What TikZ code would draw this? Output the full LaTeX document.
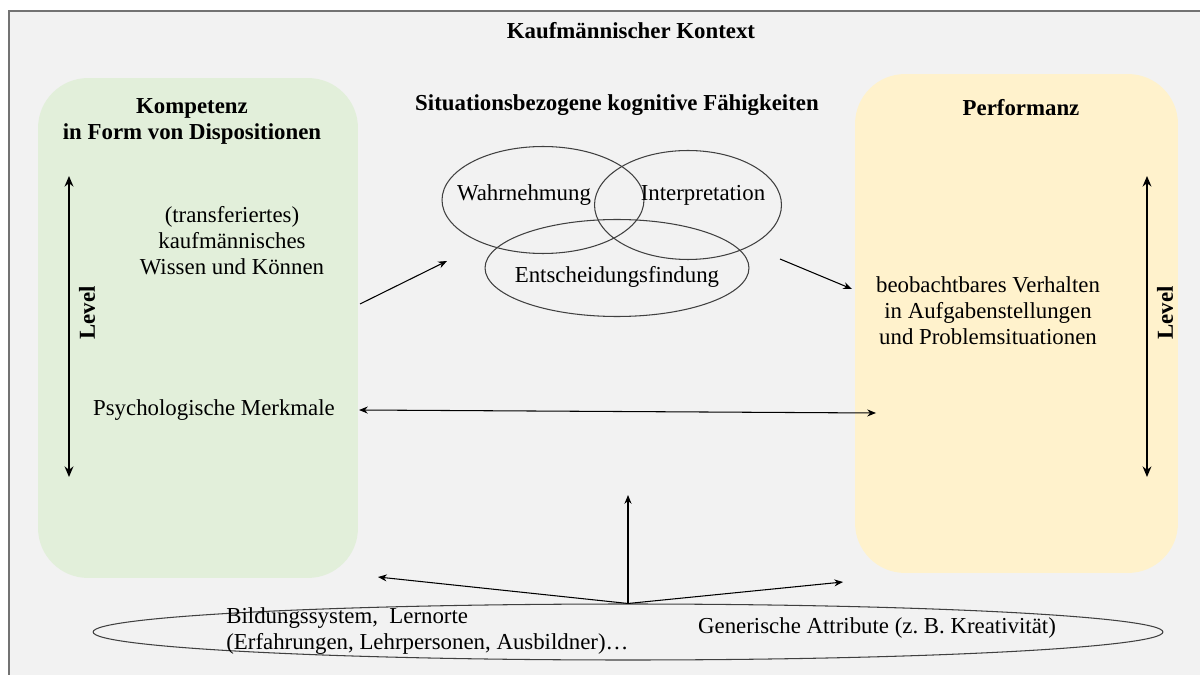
\documentclass[tikz,border=0pt]{standalone}
\usepackage{fontspec}
\setmainfont{Liberation Serif}
\usetikzlibrary{shapes.geometric,arrows.meta}

\definecolor{kompgreen}{HTML}{E2EFDA}
\definecolor{perfyellow}{HTML}{FFF2CC}

\begin{document}
\begin{tikzpicture}[
    x=0.02cm, y=-0.02cm,
    >={Stealth[length=5pt,width=4pt]},
    txt/.style={font=\fontsize{13}{14.8}\selectfont, align=center, inner sep=0pt},
    head/.style={txt, font=\fontsize{13}{14.8}\selectfont\bfseries},
    box/.style={rounded corners=1cm, minimum width=6.4cm, minimum height=10cm, inner sep=0pt},
    oval/.style={ellipse, draw=black!75, line width=.6pt, inner sep=0pt},
    ptr/.style={->, line width=.6pt, draw=black},
    lvl/.style={{Stealth[length=6pt,width=5pt]}-{Stealth[length=6pt,width=5pt]}, line width=1.3pt},
  ]
    \useasboundingbox (0,0) rectangle (1200,675);
    \fill[white] (0,0) rectangle (1200,675);
    \draw[draw=black!55, fill=black!5, line width=.8pt] (9,11) rectangle (1230,700);

    \node[head] (kontext) at (631,31) {Kaufmännischer Kontext};

    \node[box, fill=kompgreen] (komp) at (198,328) {};
    \node[box, fill=perfyellow, minimum width=6.46cm, minimum height=9.98cm] (perf) at (1016.5,323.5) {};

    \node[head] (komptitel) at (192,121) {Kompetenz\\in Form von Dispositionen};
    \node[txt] (wissen) at (232,241) {(transferiertes)\\kaufmännisches\\Wissen und Können};
    \node[txt] (psych) at (214,410) {Psychologische Merkmale};
    \coordinate (lvlkomptop) at (69,176);
    \coordinate (lvlkompbot) at (69,477);
    \draw[lvl] (lvlkomptop) -- (lvlkompbot);
    \node[head, rotate=90] (lvlkomp) at (87,313) {Level};

    \node[head] (perftitel) at (1021,108) {Performanz};
    \node[txt] (verhalten) at (988,311) {beobachtbares Verhalten\\in Aufgabenstellungen\\und Problemsituationen};
    \coordinate (lvlperftop) at (1147,176);
    \coordinate (lvlperfbot) at (1147,477);
    \draw[lvl] (lvlperftop) -- (lvlperfbot);
    \node[head, rotate=90] (lvlperf) at (1165,313) {Level};

    \node[head] (faehtitel) at (617,105) {Situationsbezogene kognitive Fähigkeiten};
    \node[oval, minimum width=4.04cm, minimum height=2.14cm] (wahr) at (543,200) {};
    \node[oval, minimum width=3.74cm, minimum height=2.18cm] (interp) at (688,205) {};
    \node[oval, minimum width=5.28cm, minimum height=1.94cm] (entsch) at (617,268) {};
    \node[txt] (wahrtxt) at (524,195) {Wahrnehmung};
    \node[txt] (interptxt) at (703,195) {Interpretation};
    \node[txt] (entschtxt) at (617,277) {Entscheidungsfindung};

    \coordinate (kompout) at (360,304);
    \coordinate (faehin) at (447,261);
    \coordinate (faehout) at (780,259);
    \coordinate (perfin) at (852,289);
    \draw[ptr] (kompout) -- (faehin);
    \draw[ptr] (faehout) -- (perfin);

    \coordinate (bezkomp) at (359,410);
    \coordinate (bezperf) at (876,413);
    \draw[ptr, <->] (bezkomp) -- (bezperf);

    \node[oval, minimum width=21.4cm, minimum height=1.12cm] (umfeld) at (628,632) {};
    \node[txt, align=left, anchor=west] (bildung) at (226,631)
      {Bildungssystem,\ \ Lernorte\\(Erfahrungen, Lehrpersonen, Ausbildner)…};
    \node[txt] (generisch) at (877,628) {Generische Attribute (z.\ B. Kreativität)};

    \coordinate (einfluss) at (628,495);
    \coordinate (einflkomp) at (378,577);
    \coordinate (einflperf) at (843,582);
    \draw[ptr] (umfeld.north) -- (einfluss);
    \draw[ptr] (umfeld.north) -- (einflkomp);
    \draw[ptr] (umfeld.north) -- (einflperf);
  \end{tikzpicture}
\end{document}
